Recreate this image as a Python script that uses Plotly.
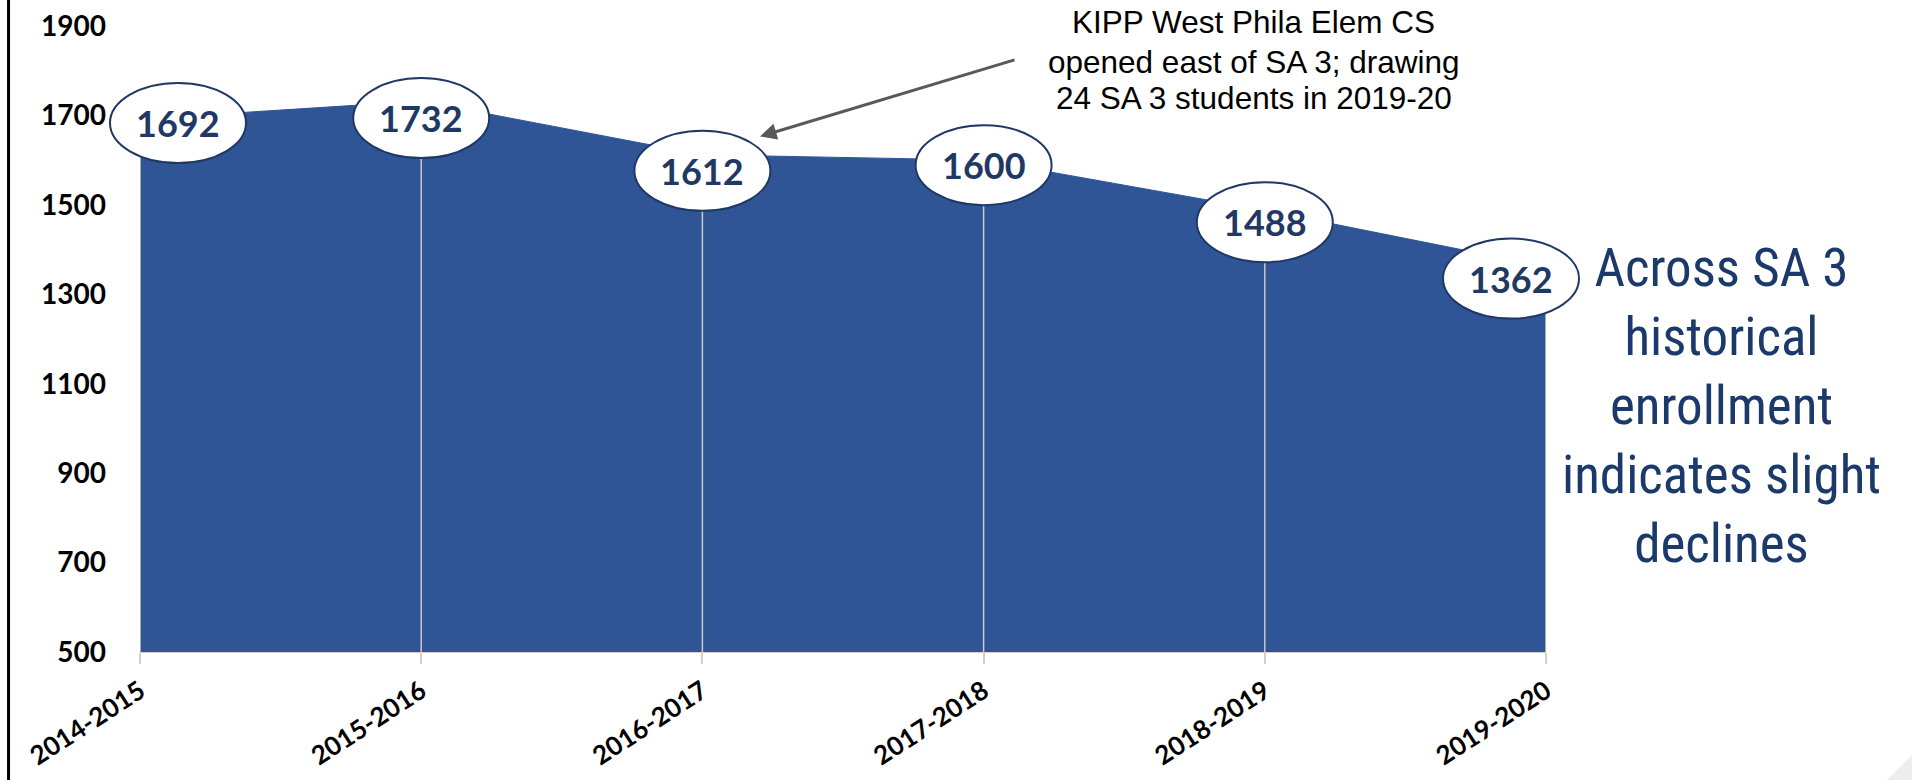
import plotly.graph_objects as go

# ---- data ----
years = ["2014-2015", "2015-2016", "2016-2017", "2017-2018", "2018-2019", "2019-2020"]
enrollment = [1692, 1732, 1612, 1600, 1488, 1362]
y_ticks = [500, 700, 900, 1100, 1300, 1500, 1700, 1900]
note_lines = ["KIPP West Phila Elem CS", "opened east of SA 3; drawing", "24 SA 3 students in 2019-20"]
side_text = "Across SA 3<br>historical<br>enrollment<br>indicates slight<br>declines"

# label placement offsets in pixels (style only)
label_dx = [38, 0, 0, 0, 0, -35]
label_dy = [-4, -17, -16, -5, -12, -12]

Y_MIN, Y_MAX = 500, 1900
FILL = "#2F5597"
NAVY = "#1F3864"

fig = go.Figure()

# area
fig.add_trace(go.Scatter(
    x=years, y=enrollment, mode="lines", fill="tozeroy",
    fillcolor=FILL, line=dict(color=FILL, width=1), hoverinfo="skip", showlegend=False))

# drop lines
dx, dy = [], []
for c, v in zip(years, enrollment):
    dx += [c, c, None]
    dy += [Y_MIN, v, None]
fig.add_trace(go.Scatter(x=dx, y=dy, mode="lines",
                         line=dict(color="#C9C9C9", width=1.5),
                         hoverinfo="skip", showlegend=False))

shapes = []
annotations = []
W, H = 68, 40
n = len(years)
for i, (c, v, ox, oy) in enumerate(zip(years, enrollment, label_dx, label_dy)):
    # anchor in paper space (derived from the axis ranges) so the ellipse is not clipped
    xp = i / (n - 1)
    yp = (v - Y_MIN) / (Y_MAX - Y_MIN)
    shapes.append(dict(type="circle", xref="paper", yref="paper", xsizemode="pixel", ysizemode="pixel",
                       xanchor=xp, yanchor=yp, x0=ox - W, x1=ox + W, y0=oy - H, y1=oy + H,
                       fillcolor="white", line=dict(color=NAVY, width=2), layer="above"))
    annotations.append(dict(x=c, y=v, xref="x", yref="y", text=f"<b>{v}</b>", showarrow=False,
                            xshift=ox, yshift=oy, font=dict(family="Lato", size=36, color=NAVY)))

# left black border line
shapes.append(dict(type="line", xref="paper", yref="paper", x0=-0.0935, x1=-0.0935, y0=-0.25, y1=1.1,
                   line=dict(color="black", width=3)))
# bottom-right decorative triangle
shapes.append(dict(type="path", xref="paper", yref="paper",
                   path="M 1.2425 -0.2045 L 1.2605 -0.1644 L 1.2605 -0.2045 Z",
                   fillcolor="#EDEDED", line=dict(width=0)))

# note text
for txt, yp in zip(note_lines, [1.0056, 0.9425, 0.885]):
    annotations.append(dict(x=0.7923, y=yp, xref="paper", yref="paper", text=txt, showarrow=False,
                            xanchor="center", yanchor="middle",
                            font=dict(family="Liberation Sans, Arial", size=31.5, color="black")))
# arrow
annotations.append(dict(x=0.441, y=0.8236, xref="paper", yref="paper", text="", showarrow=True,
                        ax=256, ay=-77, arrowhead=2, arrowsize=1.1, arrowwidth=3, arrowcolor="#595959"))
# side text
annotations.append(dict(x=1.125, y=0.3935, xref="paper", yref="paper", text=side_text, showarrow=False,
                        xanchor="center", yanchor="middle", align="center",
                        font=dict(family="Roboto Condensed, Liberation Sans Narrow, Roboto", size=53, color="#1B3A6B")))

fig.update_layout(
    width=1912, height=780,
    margin=dict(l=140, r=366, t=26, b=128),
    paper_bgcolor="white", plot_bgcolor="white",
    showlegend=False,
    shapes=shapes, annotations=annotations,
    xaxis=dict(type="category", range=[0, n - 1], showgrid=False, zeroline=False, automargin=False,
               showline=True, linecolor="#D0D0D0", linewidth=1,
               ticks="outside", ticklen=11, tickcolor="#D0D0D0", tickwidth=1.5,
               ticklabelstandoff=2,
               tickangle=-33, tickfont=dict(family="Lato", size=26, color="black", weight="bold")),
    yaxis=dict(range=[Y_MIN, Y_MAX], tickvals=y_ticks, showgrid=False, zeroline=False, showline=False,
               automargin=False, ticklabelstandoff=33,
               tickfont=dict(family="Lato", size=28, color="black", weight="bold")),
)

fig.write_html("out.html", config={"displayModeBar": False},
               post_script="document.body.style.margin='0';document.body.style.overflow='hidden';")
